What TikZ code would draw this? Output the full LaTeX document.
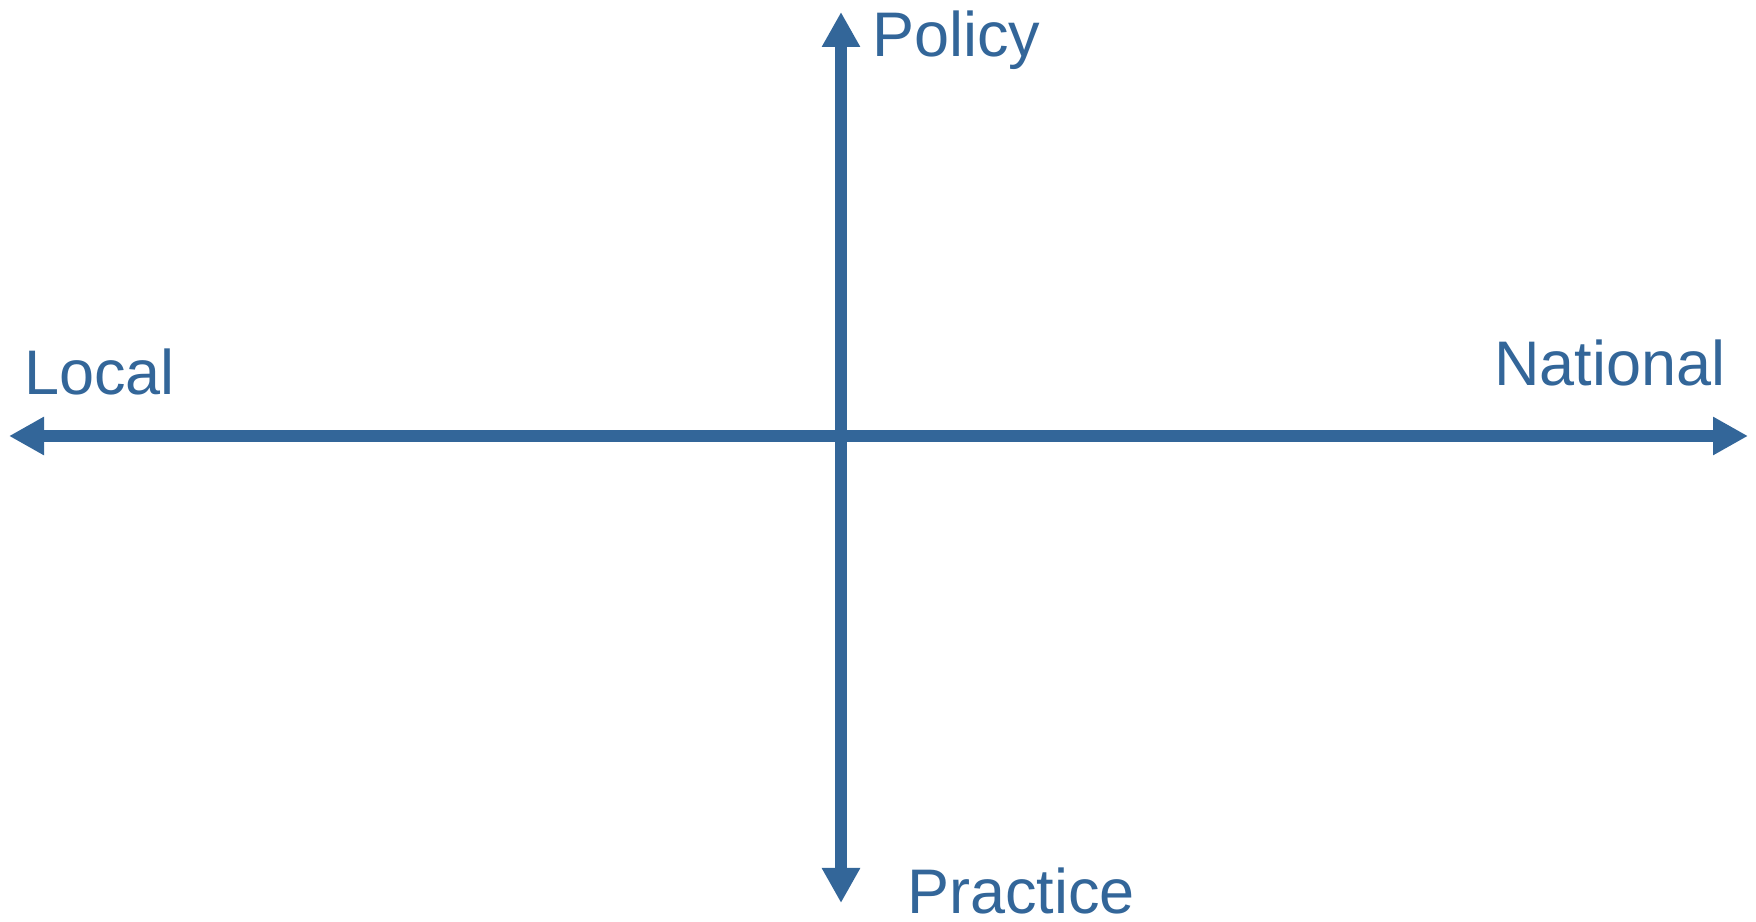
\documentclass[tikz,border=0pt]{standalone}
\usepackage{fontspec}
\setmainfont{Liberation Sans}
\usetikzlibrary{arrows.meta}
\definecolor{axisblue}{RGB}{51,102,153}
\begin{document}
\begin{tikzpicture}[x=1pt,y=1pt,
  axis/.style={draw=axisblue,line width=12pt,{Triangle[width=36pt,length=35pt]}-{Triangle[width=36pt,length=35pt]}},
  lbl/.style={text=axisblue,font=\fontsize{63}{70}\selectfont,inner sep=0pt,anchor=base west}]
\useasboundingbox (0,0) rectangle (1756,921);
\coordinate (L) at (9,485);
\coordinate (R) at (1748,485);
\coordinate (T) at (841,909);
\coordinate (B) at (841,18);
\draw[axis] (L) -- (R);
\draw[axis] (B) -- (T);
\node[lbl] (policy) at (872,864) {Policy};
\node[lbl] (local) at (24,526) {Local};
\node[lbl] (national) at (1494,535) {National};
\node[lbl] (practice) at (907,8) {Practice};
\end{tikzpicture}
\end{document}
